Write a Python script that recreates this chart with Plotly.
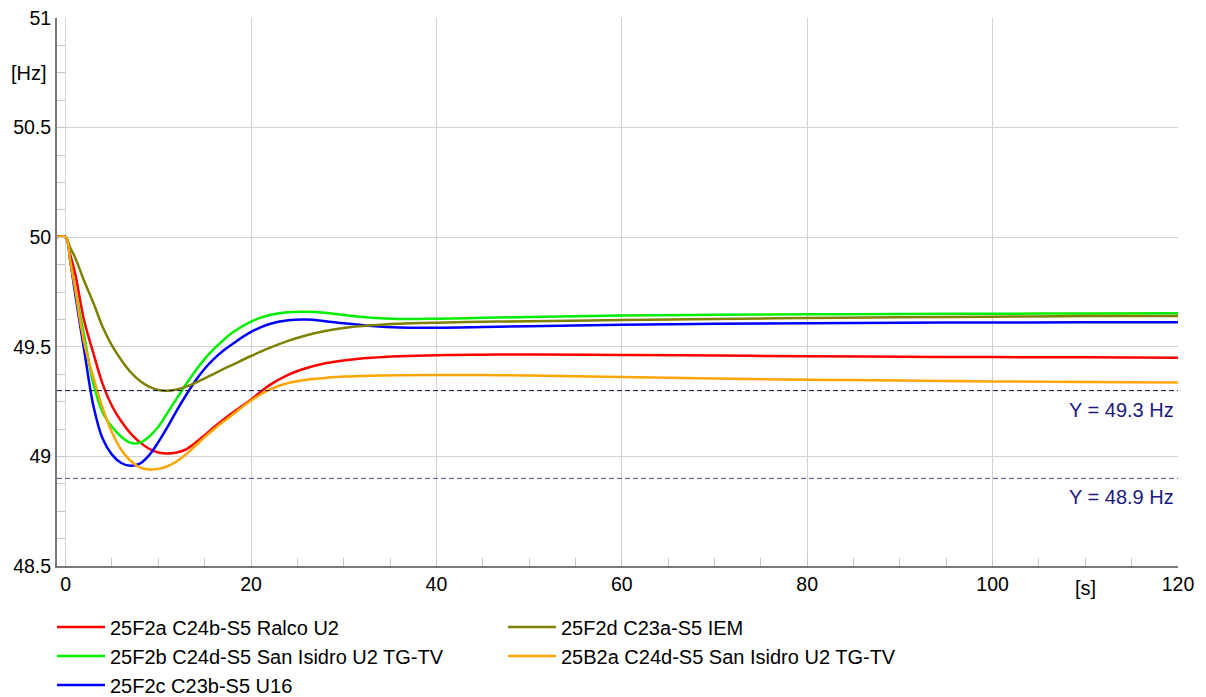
import plotly.graph_objects as go

# Time axis [s]
t = [-1, 0, 0.5, 1, 2, 3, 4, 5, 6, 7, 8, 9, 10, 11, 12, 13, 14, 15, 16, 17, 18,
     20, 22, 24, 26, 28, 30, 33, 36, 40, 45, 50, 60, 70, 80, 90, 100, 110, 120]

# Frequency responses [Hz]
f_ralco = [50, 50, 49.92, 49.84, 49.62, 49.47, 49.33, 49.23, 49.16, 49.105, 49.065, 49.035,
           49.018, 49.013, 49.018, 49.032, 49.062, 49.097, 49.133, 49.167, 49.199,
           49.26, 49.325, 49.372, 49.403, 49.425, 49.438, 49.45, 49.457, 49.462, 49.464,
           49.465, 49.463, 49.46, 49.457, 49.455, 49.453, 49.452, 49.45]
f_sanisidro_b = [50, 50, 49.89, 49.77, 49.55, 49.33, 49.20, 49.135, 49.09, 49.062, 49.062, 49.09,
                 49.135, 49.20, 49.265, 49.33, 49.39, 49.445, 49.49, 49.53, 49.565,
                 49.615, 49.645, 49.658, 49.66, 49.655, 49.645, 49.633, 49.627, 49.628, 49.632,
                 49.636, 49.643, 49.646, 49.648, 49.65, 49.651, 49.652, 49.653]
f_u16 = [50, 50, 49.89, 49.75, 49.485, 49.23, 49.08, 49.008, 48.97, 48.957, 48.967, 49.005,
         49.065, 49.135, 49.21, 49.28, 49.345, 49.4, 49.445, 49.482, 49.513,
         49.568, 49.604, 49.621, 49.624, 49.617, 49.607, 49.595, 49.588, 49.587, 49.59,
         49.594, 49.601, 49.605, 49.608, 49.61, 49.611, 49.612, 49.612]
f_iem = [50, 50, 49.95, 49.91, 49.80, 49.70, 49.59, 49.505, 49.44, 49.385, 49.345, 49.318,
         49.303, 49.30, 49.305, 49.318, 49.336, 49.356, 49.377, 49.398, 49.418,
         49.458, 49.495, 49.527, 49.553, 49.572, 49.586, 49.598, 49.605, 49.61, 49.614,
         49.617, 49.622, 49.627, 49.631, 49.635, 49.637, 49.64, 49.64]
f_sanisidro_a = [50, 50, 49.89, 49.77, 49.52, 49.36, 49.22, 49.11, 49.03, 48.98, 48.95, 48.94,
                 48.943, 48.955, 48.978, 49.01, 49.048, 49.088, 49.124, 49.158, 49.19,
                 49.255, 49.305, 49.335, 49.35, 49.358, 49.364, 49.368, 49.37, 49.371, 49.371,
                 49.369, 49.362, 49.355, 49.35, 49.346, 49.342, 49.339, 49.337]

names = ["25F2a C24b-S5 Ralco U2", "25F2b C24d-S5 San Isidro U2 TG-TV",
         "25F2c C23b-S5 U16", "25F2d C23a-S5 IEM", "25B2a C24d-S5 San Isidro U2 TG-TV"]
series = [f_ralco, f_sanisidro_b, f_u16, f_iem, f_sanisidro_a]
colors = ["#ff0000", "#00ee00", "#0000ff", "#808000", "#ffa500"]
ranks = [1, 3, 5, 2, 4]

# Reference limits [Hz]
limits = [49.3, 48.9]
limit_labels = ["Y = 49.3 Hz", "Y = 48.9 Hz"]
limit_colors = ["#0c0c40", "#4a4a98"]

FONT = "Liberation Sans, Arial, sans-serif"

fig = go.Figure()
for name, y, c, r in zip(names, series, colors, ranks):
    fig.add_trace(go.Scatter(x=t, y=y, name=name, mode="lines",
                             line=dict(color=c, width=2.5, shape="spline", smoothing=1.0),
                             legendrank=r))

for v, lab, c in zip(limits, limit_labels, limit_colors):
    fig.add_shape(type="line", xref="paper", x0=0, x1=1, yref="y", y0=v, y1=v,
                  line=dict(color=c, width=1, dash="5px,3px"))
    fig.add_annotation(x=120, y=v, xref="x", yref="y", text=lab, showarrow=False,
                       xanchor="right", yanchor="middle", xshift=-2, yshift=-19,
                       font=dict(family=FONT, size=20, color="#1a1a80"))

# Axis unit labels
fig.add_annotation(xref="paper", x=0, y=50.75, yref="y", text="[Hz]", showarrow=False,
                   xanchor="right", yanchor="middle", xshift=-8,
                   font=dict(family=FONT, size=20, color="#000000"))
fig.add_annotation(x=110, xref="x", yref="paper", y=0, text="[s]", showarrow=False,
                   xanchor="center", yanchor="middle", yshift=-22,
                   font=dict(family=FONT, size=20, color="#000000"))

fig.update_xaxes(range=[-0.93, 120], tickvals=[0, 20, 40, 60, 80, 100, 120],
                 showgrid=True, gridcolor="#d2d2d2", gridwidth=1, zeroline=False,
                 showline=True, linecolor="#7a7a7a", linewidth=2,
                 ticks="inside", ticklen=8, tickcolor="#c8c8c8",
                 minor=dict(dtick=5, ticks="inside", ticklen=8, tickcolor="#c8c8c8", showgrid=False),
                 tickfont=dict(family=FONT, size=19.5, color="#000000"))
fig.update_yaxes(range=[48.5, 51], tickvals=[48.5, 49, 49.5, 50, 50.5, 51],
                 ticktext=["48.5", "49", "49.5", "50", "50.5", "51"],
                 showgrid=True, gridcolor="#d2d2d2", gridwidth=1, zeroline=False,
                 showline=True, linecolor="#7a7a7a", linewidth=2,
                 ticks="inside", ticklen=8, tickcolor="#c8c8c8",
                 minor=dict(dtick=0.125, ticks="inside", ticklen=8, tickcolor="#c8c8c8", showgrid=False),
                 tickfont=dict(family=FONT, size=19.5, color="#000000"))

fig.update_layout(
    width=1206, height=697,
    margin=dict(l=57, r=28, t=18, b=130.5, autoexpand=False),
    paper_bgcolor="#ffffff", plot_bgcolor="#ffffff",
    showlegend=True,
    legend=dict(orientation="h", x=-0.0045, xanchor="left", y=-0.0757, yanchor="top",
                entrywidth=388, entrywidthmode="pixels", itemwidth=48,
                font=dict(family=FONT, size=20, color="#000000"),
                bgcolor="rgba(0,0,0,0)", traceorder="normal"),
)

fig.write_html("out.html")
